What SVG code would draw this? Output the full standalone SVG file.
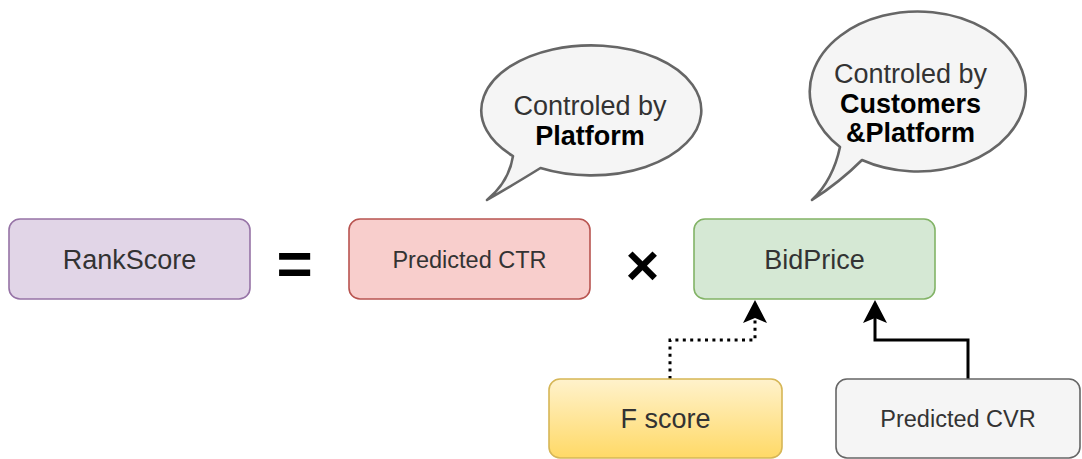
<svg xmlns="http://www.w3.org/2000/svg" width="1082" height="459" viewBox="0 0 1082 459">
  <style>
    text { font-family: "Liberation Sans", Arial, sans-serif; text-anchor: middle; fill: #333333; }
    .lg { font-size: 27px; }
    .sm { font-size: 23.5px; }
    .b { font-weight: bold; fill: #000000; }
    .op { font-size: 58px; font-weight: bold; fill: #000000; }
    .box { stroke-width: 1.6; }
    .bubble { fill: #f5f5f5; stroke: #666666; stroke-width: 2.6; stroke-linejoin: round; }
    .edge { fill: none; stroke: #000000; stroke-width: 3; marker-end: url(#arrow); }
    .dotted { stroke-dasharray: 3 4.4; }
  </style>
  <defs>
    <linearGradient id="yellowGrad" x1="0" y1="0" x2="0" y2="1">
      <stop offset="0" stop-color="#fff2cc"/>
      <stop offset="1" stop-color="#ffd966"/>
    </linearGradient>
    <!-- classic arrowhead: notch sits on the line end, tip 18px further on -->
    <marker id="arrow" viewBox="0 0 23 24" refX="5" refY="12" markerWidth="23" markerHeight="24" markerUnits="userSpaceOnUse" orient="auto">
      <path d="M23,12 L0,0 L5,12 L0,24 Z" fill="#000000"/>
    </marker>
  </defs>

  <!-- connectors -->
  <g id="connectors">
    <path class="edge dotted" d="M670,379 L670,340 L755,340 L755,318"/>
    <path class="edge" d="M968,379 L968,340 L875,340 L875,318"/>
  </g>

  <g id="rankscore">
    <rect class="box" x="9" y="219" width="241" height="80" rx="11" fill="#e1d5e7" stroke="#9673a6"/>
    <text class="lg" x="129.5" y="268.5">RankScore</text>
  </g>

  <g id="equals">
    <text class="op" x="294.5" y="284.5" style="font-size:62px">=</text>
  </g>

  <g id="predicted-ctr">
    <rect class="box" x="349" y="219" width="241" height="80" rx="11" fill="#f8cecc" stroke="#b85450"/>
    <text class="sm" x="469.5" y="267.5">Predicted CTR</text>
  </g>

  <g id="times">
    <text class="op" x="642.5" y="285">×</text>
  </g>

  <g id="bidprice">
    <rect class="box" x="694" y="219" width="241" height="80" rx="11" fill="#d5e8d4" stroke="#82b366"/>
    <text class="lg" x="814.5" y="268.5">BidPrice</text>
  </g>

  <g id="fscore">
    <rect class="box" x="549" y="379" width="233" height="79" rx="11" fill="url(#yellowGrad)" stroke="#d6b656"/>
    <text class="lg" x="665.5" y="428">F score</text>
  </g>

  <g id="predicted-cvr">
    <rect class="box" x="836" y="379" width="244" height="79" rx="11" fill="#f5f5f5" stroke="#666666"/>
    <text class="sm" x="958" y="427">Predicted CVR</text>
  </g>

  <g id="platform-callout">
    <path class="bubble" d="M513,156 A110,65 0 1 1 540.5,168 Q518,182 487,200 Q509,182 513,156 Z"/>
    <text class="lg" x="590" y="115">Controled by</text>
    <text class="lg b" x="590" y="145">Platform</text>
  </g>

  <g id="customers-callout">
    <path class="bubble" d="M840,147 A108,80 0 1 1 862,160 Q840,182 812,200 Q833,180 840,147 Z"/>
    <text class="lg" x="910.5" y="83">Controled by</text>
    <text class="lg b" x="910.5" y="112.5">Customers</text>
    <text class="lg b" x="910.5" y="142">&amp;Platform</text>
  </g>
</svg>
